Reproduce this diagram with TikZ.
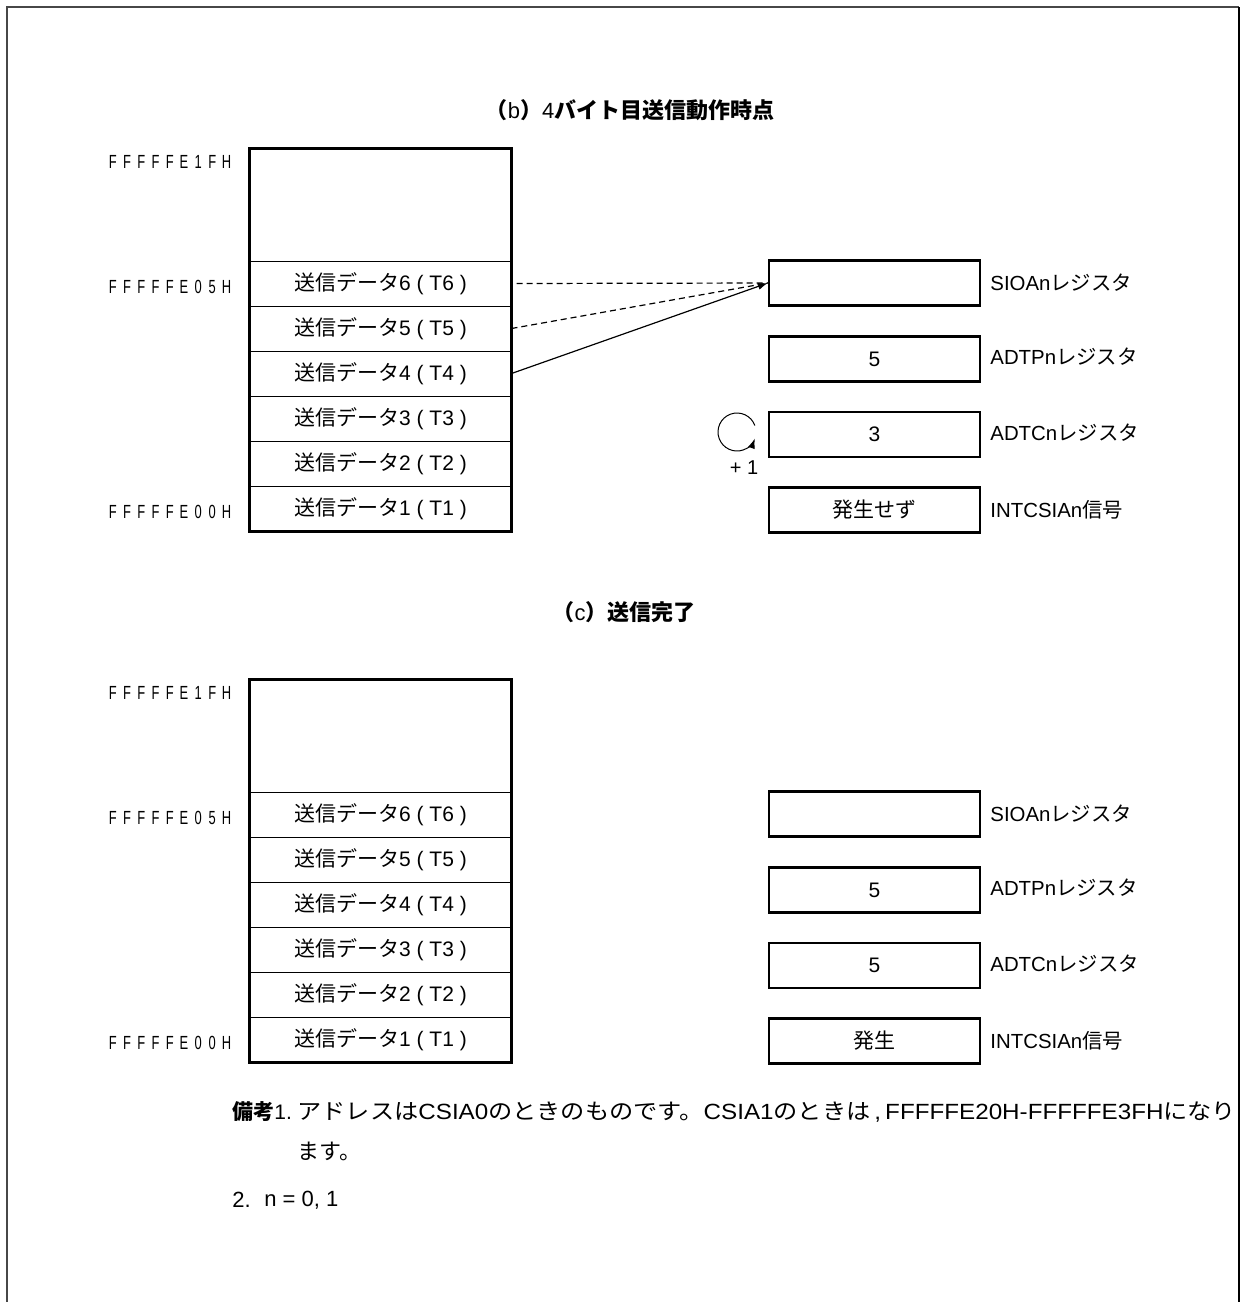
\documentclass[tikz,border=0pt]{standalone}
\usepackage{fontspec}
\usepackage{graphicx}
\setmainfont{Liberation Sans}
\newfontfamily\cjk{Noto Sans CJK JP}
\usetikzlibrary{arrows.meta}
\newcommand\J[1]{{\cjk #1}}
\makeatletter
\newcommand\addr[1]{\@tfor\ch:=#1\do{\makebox[7.1pt]{\scalebox{0.68}[1]{\ch}}}}
\makeatother
\tikzset{
  cell/.style={draw, line width=0.5pt, minimum width=130.5pt, minimum height=22.5pt, inner sep=0pt, font=\fontsize{10.5}{12}\selectfont},
  memblock/.style={draw, line width=1.1pt, minimum width=130.5pt, minimum height=191pt, inner sep=0pt},
  regbox/.style={draw, line width=1.1pt, minimum width=105.5pt, minimum height=22.5pt, inner sep=0pt, font=\fontsize{10.5}{12}\selectfont},
  reglabel/.style={anchor=west, inner sep=0pt, font=\fontsize{10.2}{12}\selectfont},
  addrlabel/.style={anchor=east, inner sep=0pt, font=\fontsize{9.5}{11}\selectfont},
  ttl/.style={inner sep=0pt, font=\fontsize{11}{13}\selectfont\bfseries},
  note/.style={anchor=west, inner sep=0pt, font=\fontsize{11}{13}\selectfont},
  dashline/.style={line width=0.6pt, dash pattern=on 3pt off 2pt},
  xfer/.style={line width=0.6pt, -{Latex[length=5pt,width=3.5pt]}}
}
\newcommand\panel[6]{%
  % #1 prefix, #2 y offset, #3 ADTP, #4 ADTC, #5 INT, #6 extras
  \begin{scope}[shift={(0,#2)}, name prefix=#1-]
    \node[memblock] (mem) at (380.5,340) {};
    \node[cell] (t6) at (380.5,283.5) {\J{送信データ}6 ( T6 )};
    \node[cell] (t5) at (380.5,328.5) {\J{送信データ}5 ( T5 )};
    \node[cell] (t4) at (380.5,373.5) {\J{送信データ}4 ( T4 )};
    \node[cell] (t3) at (380.5,418.5) {\J{送信データ}3 ( T3 )};
    \node[cell] (t2) at (380.5,463.5) {\J{送信データ}2 ( T2 )};
    \node[cell] (t1) at (380.5,508.5) {\J{送信データ}1 ( T1 )};
    \draw[line width=1.1pt] (mem.north west) rectangle (mem.south east);
    \node[addrlabel] (a1f) at (234,162) {\addr{FFFFFE1FH}};
    \node[addrlabel] (a05) at (234,287) {\addr{FFFFFE05H}};
    \node[addrlabel] (a00) at (234,512) {\addr{FFFFFE00H}};
    \node[regbox] (sio) at (874.5,283) {};
    \node[regbox] (adtp) at (874.5,359) {#3};
    \node[regbox] (adtc) at (874.5,434.5) {#4};
    \node[regbox] (int) at (874.5,510) {#5};
    \node[reglabel] (siol) at (990,283) {SIOAn\J{レジスタ}};
    \node[reglabel] (adtpl) at (990,357) {ADTPn\J{レジスタ}};
    \node[reglabel] (adtcl) at (990,433) {ADTCn\J{レジスタ}};
    \node[reglabel] (intl) at (990,510) {INTCSIAn\J{信号}};
    #6
  \end{scope}}
\begin{document}
\begin{tikzpicture}[x=0.5pt,y=-0.5pt]
\useasboundingbox (0,0) rectangle (1240,1302);
\fill[white] (0,0) rectangle (1240,1302);
% frame
\draw[line width=1.3pt, black!72] (7,1320) -- (7,7) -- (1239,7);
\draw[line width=1.3pt] (1239,7) -- (1239,1320);
% titles
\node[ttl] (ttlb) at (630,110) {\J{（}{\mdseries b}\J{）}{\mdseries 4}\J{バイト目送信動作時点}};
\node[ttl] (ttlc) at (624,612) {\J{（}{\mdseries c}\J{）}\J{送信完了}};
% panel b
\panel{b}{0}{5}{3}{\J{発生せず}}{%
  \draw[dashline] ([xshift=2.5pt]t6.east) -- (sio.west);
  \draw[dashline] (t5.east) -- (sio.west);
  \draw[xfer] (t4.east) -- (sio.west);
  \coordinate (cc) at (737,432);
  \draw[line width=0.5pt, -{Latex[length=5pt,width=3.5pt]}] ([shift={(-20:19)}]cc) arc[start angle=-20, end angle=-340, radius=19];
  \node[font=\fontsize{10}{12}\selectfont, inner sep=0pt] (plus) at (744,468) {+ 1};
}
% panel c
\panel{c}{531}{5}{5}{\J{発生}}{}
% notes
\node[note, font=\fontsize{10.5}{12}\selectfont] (n1a) at (232,1112) {\J{\bfseries 備考}1.};
\node[note] (n1b) at (297,1112) {\scalebox{1.1}[1]{\J{アドレスは}CSIA0\J{のときのものです。}CSIA1\J{のときは}\,,\,FFFFFE20H-FFFFFE3FH\J{になり}}};
\node[note] (n1c) at (297,1151) {\J{ます。}};
\node[note] (n2a) at (232,1200) {2.};
\node[note] (n2b) at (264,1200) {n = 0, 1};
\end{tikzpicture}
\end{document}
